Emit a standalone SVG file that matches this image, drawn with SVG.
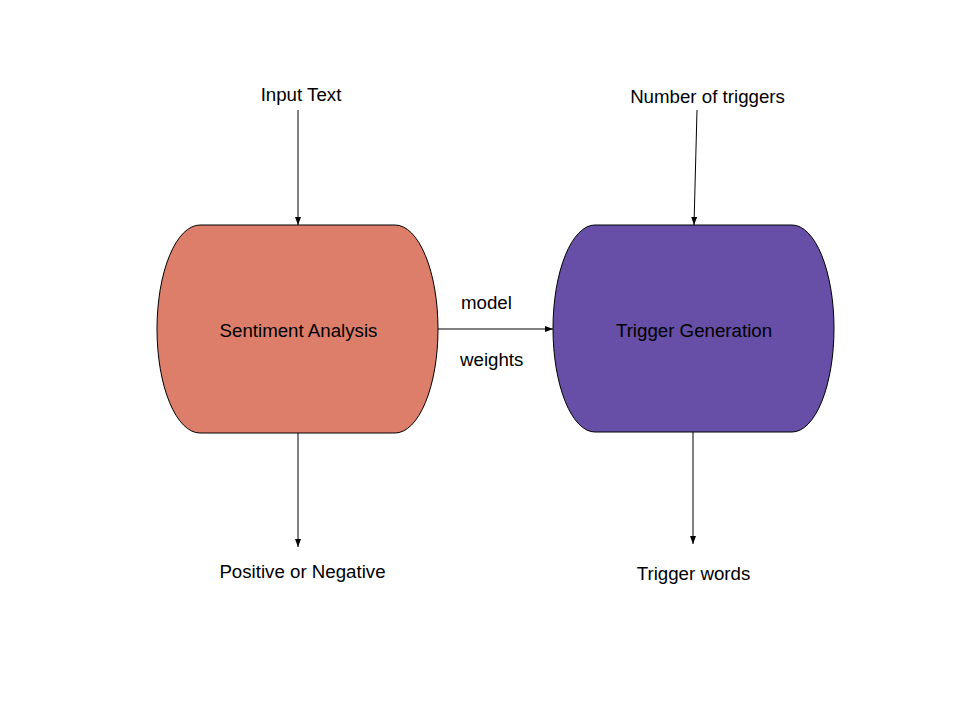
<svg xmlns="http://www.w3.org/2000/svg" width="960" height="720" viewBox="0 0 960 720">
<style>
text{font-family:"Liberation Sans",Arial,sans-serif;font-size:18.7px;fill:#000}
.node{stroke:#000;stroke-width:1}
.conn{stroke:#000;stroke-width:1;fill:none}
</style>
<defs>
<marker id="ah" viewBox="0 0 8 6" refX="8" refY="3" markerWidth="8" markerHeight="6" markerUnits="userSpaceOnUse" orient="auto">
<path d="M0,0 L8,3 L0,6 Z" fill="#000"/>
</marker>
</defs>
<rect width="960" height="720" fill="#fff"/>
<g id="connectors">
<line class="conn" x1="298" y1="110" x2="298" y2="225" marker-end="url(#ah)"/>
<line class="conn" x1="298" y1="433" x2="298" y2="547" marker-end="url(#ah)"/>
<line class="conn" x1="438" y1="329" x2="553" y2="329" marker-end="url(#ah)"/>
<line class="conn" x1="697" y1="110" x2="694" y2="225" marker-end="url(#ah)"/>
<line class="conn" x1="693" y1="432" x2="693" y2="544" marker-end="url(#ah)"/>
</g>
<g id="sentiment">
<path class="node" fill="#dd7e6b" d="M200,225 H395 A43,104 0 0 1 438,329 A43,104 0 0 1 395,433 H200 A43,104 0 0 1 157,329 A43,104 0 0 1 200,225 Z"/>
<text x="298.5" y="337" text-anchor="middle">Sentiment Analysis</text>
</g>
<g id="trigger">
<path class="node" fill="#674ea7" d="M595,225 H792 A42,103.5 0 0 1 834,328.5 A42,103.5 0 0 1 792,432 H595 A42,103.5 0 0 1 553,328.5 A42,103.5 0 0 1 595,225 Z"/>
<text x="694" y="337" text-anchor="middle">Trigger Generation</text>
</g>
<g id="labels">
<text x="301" y="101" text-anchor="middle">Input Text</text>
<text x="707.5" y="102.5" text-anchor="middle">Number of triggers</text>
<text x="302.5" y="577.5" text-anchor="middle">Positive or Negative</text>
<text x="693.5" y="579.5" text-anchor="middle">Trigger words</text>
<text x="461" y="309">model</text>
<text x="460" y="366">weights</text>
</g>
</svg>
